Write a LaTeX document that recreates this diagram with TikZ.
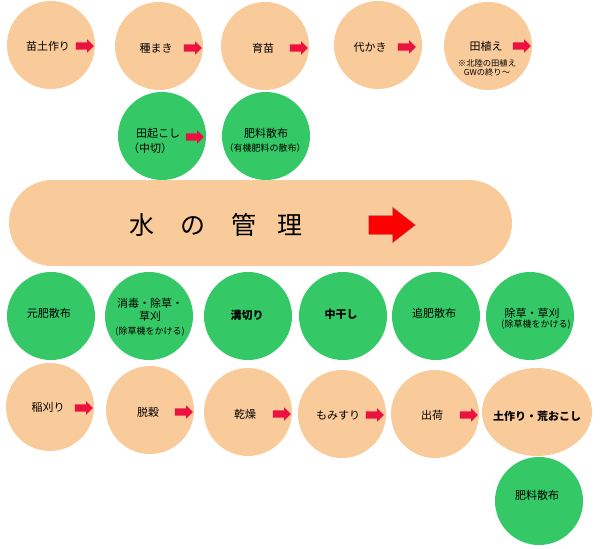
\documentclass[tikz,border=0pt]{standalone}
\usepackage{fontspec}
\setmainfont{Noto Sans CJK JP}
\definecolor{peach}{RGB}{250, 203, 154}
\definecolor{leafgreen}{RGB}{52, 200, 102}
\definecolor{arrowred}{RGB}{236, 18, 64}
\usetikzlibrary{shapes.geometric, shapes.arrows, positioning}

\tikzset{
  peachdot/.style={circle, fill=peach, minimum size=88pt, inner sep=0pt},
  greendot/.style={circle, fill=leafgreen, minimum size=88pt, inner sep=0pt},
  lbl/.style={font=\fontsize{11}{13}\selectfont, inner sep=0pt, align=center},
  note/.style={font=\fontsize{9}{10}\selectfont, inner sep=0pt, align=center},
  nextarrow/.style={single arrow, fill=arrowred, inner xsep=0pt, inner ysep=3.5pt,
    minimum height=18pt, single arrow head extend=3pt},
}

\begin{document}
\begin{tikzpicture}[x=1pt, y=-1pt]
  \useasboundingbox (0,0) rectangle (600,549);

  % Spring work (top row)
  \node[peachdot] (nae) at (51,45) {};
  \node[lbl] (naeL) at (48,46) {苗土作り};
  \node[nextarrow] (naeA) at (83,46) {};

  \node[peachdot] (tane) at (159,46) {};
  \node[lbl] (taneL) at (156,48) {種まき};
  \node[nextarrow] (taneA) at (191,48) {};

  \node[peachdot] (ikubyo) at (265,46) {};
  \node[lbl] (ikubyoL) at (263,48) {育苗};
  \node[nextarrow] (ikubyoA) at (297,48) {};

  \node[peachdot] (shiro) at (378,45) {};
  \node[lbl] (shiroL) at (370,47) {代かき};
  \node[nextarrow] (shiroA) at (405,47) {};

  \node[peachdot] (taue) at (488,46) {};
  \node[lbl] (taueL) at (486,46) {田植え};
  \node[nextarrow] (taueA) at (520,46) {};
  \node[note, font=\fontsize{8.3}{9}\selectfont] (taueN) at (487,68) {※北陸の田植え\\GWの終り～};

  % Field preparation
  \node[greendot] (taoko) at (162,136) {};
  \node[lbl] (taokoL) at (158,133) {田起こし};
  \node[lbl] (taokoS) at (150,148) {（中切）};
  \node[nextarrow] (taokoA) at (193,137) {};

  \node[greendot] (hiryo1) at (266,136) {};
  \node[lbl] (hiryo1L) at (266,133) {肥料散布};
  \node[note] (hiryo1S) at (265,148) {（有機肥料の散布）};

  % Water management
  \node[rectangle, rounded corners=43pt, fill=peach, minimum width=503pt, minimum height=86pt] (water) at (260.5,223) {};
  \node[font=\fontsize{25}{28}\selectfont, inner sep=0pt] (waterL) at (216,225) {水\hspace{1.05em}の\hspace{1.05em}管\hspace{0.85em}理};
  \node[single arrow, fill=red, draw=gray!70, inner xsep=0pt, inner ysep=9.5pt,
    minimum height=47pt, single arrow head extend=8.5pt, single arrow tip angle=76] (waterA) at (386,225) {};

  % Summer work
  \node[greendot] (motogoe) at (51,316) {};
  \node[lbl] (motogoeL) at (49,313) {元肥散布};

  \node[greendot] (shodoku) at (149,316) {};
  \node[lbl] (shodokuL) at (150,310) {消毒・除草・\\草刈};
  \node[note] (shodokuS) at (150,332) {(除草機をかける)};

  \node[greendot] (mizo) at (248,316) {};
  \node[lbl, font=\fontsize{11}{13}\selectfont\bfseries] (mizoL) at (247,315) {溝切り};

  \node[greendot] (nakaboshi) at (343,316) {};
  \node[lbl, font=\fontsize{11}{13}\selectfont\bfseries] (nakaboshiL) at (341,314) {中干し};

  \node[greendot] (tsuihi) at (436,316) {};
  \node[lbl] (tsuihiL) at (434,313) {追肥散布};

  \node[greendot] (josou) at (530,316) {};
  \node[lbl] (josouL) at (532,313) {除草・草刈};
  \node[note] (josouS) at (536,325) {(除草機をかける)};

  % Autumn work
  \node[peachdot] (inekari) at (50,407) {};
  \node[lbl] (inekariL) at (48,407) {稲刈り};
  \node[nextarrow] (inekariA) at (82,408) {};

  \node[peachdot] (dakkoku) at (150,410) {};
  \node[lbl] (dakkokuL) at (148,412) {脱穀};
  \node[nextarrow] (dakkokuA) at (182,412) {};

  \node[peachdot] (kanso) at (248,412) {};
  \node[lbl] (kansoL) at (245,414) {乾燥};
  \node[nextarrow] (kansoA) at (280,414) {};

  \node[peachdot] (momisuri) at (342,414) {};
  \node[lbl] (momisuriL) at (338,415) {もみすり};
  \node[nextarrow] (momisuriA) at (373,415) {};

  \node[peachdot] (shukka) at (435,414) {};
  \node[lbl] (shukkaL) at (432,415) {出荷};
  \node[nextarrow] (shukkaA) at (467,415) {};

  \node[ellipse, fill=peach, minimum width=110pt, minimum height=88pt, inner sep=0pt] (tsuchi) at (537,412) {};
  \node[lbl, font=\fontsize{11}{13}\selectfont\bfseries] (tsuchiL) at (537,416) {土作り・荒おこし};

  \node[greendot] (hiryo2) at (539,501) {};
  \node[lbl] (hiryo2L) at (537,495) {肥料散布};
\end{tikzpicture}
\end{document}
